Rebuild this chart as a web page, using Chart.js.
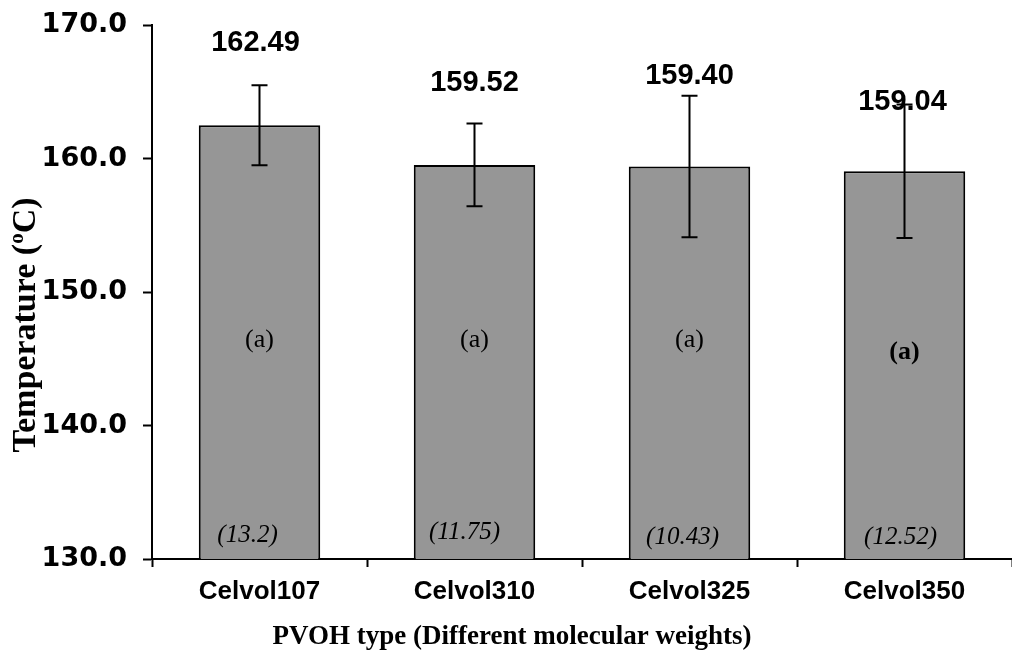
<!DOCTYPE html>
<html>
<head>
<meta charset="utf-8">
<script src="https://cdn.jsdelivr.net/npm/chart.js@4"></script>
<style>
  html, body { margin: 0; padding: 0; background: #fff; }
  #wrap { width: 1012px; height: 653px; }
</style>
</head>
<body>
<div id="wrap"><canvas id="meltChart" width="1012" height="653"></canvas></div>
<script>
// melting temperature per PVOH grade
const categories = ['Celvol107', 'Celvol310', 'Celvol325', 'Celvol350'];
const meltTemps = [162.49, 159.52, 159.40, 159.04];
const stdDevs = [3.0, 3.1, 5.3, 5.0];
const groupLetters = ['(a)', '(a)', '(a)', '(a)'];
const bracketValues = ['(13.2)', '(11.75)', '(10.43)', '(12.52)'];
const yMin = 130, yMax = 170, yStep = 10;
const xTitle = 'PVOH type (Different molecular weights)';

// where the annotations sit (layout only)
const valueLift = [42, 41, 20, 3];        // px above the error bar top
const valueShift = [-4, 0, 0, -2];
const letterLevel = [146.4, 146.4, 146.4, 145.5];
const bracketLevel = [131.8, 132.0, 131.6, 131.6];
const bracketShift = [-12, -10, -7, -4];

const SANS = '"Liberation Sans", Arial, sans-serif';
const WIDE = '"DejaVu Sans", Verdana, sans-serif';
const SERIF = '"Liberation Serif", "Times New Roman", serif';

const annotate = {
  id: 'annotate',
  afterDatasetsDraw(chart) {
    const ctx = chart.ctx;
    const y = chart.scales.y;
    const bars = chart.getDatasetMeta(0).data;
    ctx.save();
    // error bars
    ctx.strokeStyle = '#000';
    ctx.lineWidth = 2;
    bars.forEach((bar, i) => {
      const top = y.getPixelForValue(meltTemps[i] + stdDevs[i]);
      const bot = y.getPixelForValue(meltTemps[i] - stdDevs[i]);
      ctx.beginPath();
      ctx.moveTo(bar.x, top); ctx.lineTo(bar.x, bot);
      ctx.moveTo(bar.x - 8, top); ctx.lineTo(bar.x + 8, top);
      ctx.moveTo(bar.x - 8, bot); ctx.lineTo(bar.x + 8, bot);
      ctx.stroke();
    });
    ctx.fillStyle = '#000';
    ctx.textAlign = 'center';
    ctx.textBaseline = 'middle';
    bars.forEach((bar, i) => {
      // value on top
      ctx.font = 'bold 29px ' + SANS;
      const top = y.getPixelForValue(meltTemps[i] + stdDevs[i]);
      ctx.fillText(meltTemps[i].toFixed(2), bar.x + valueShift[i], top - valueLift[i]);
      // significance letter
      ctx.font = (i === 3 ? 'bold ' : '') + '26px ' + SERIF;
      ctx.fillText(groupLetters[i], bar.x, y.getPixelForValue(letterLevel[i]));
      // bracketed value near the base
      ctx.font = 'italic 25px ' + SERIF;
      ctx.fillText(bracketValues[i], bar.x + bracketShift[i], y.getPixelForValue(bracketLevel[i]));
    });
    ctx.restore();
  },
  afterDraw(chart) {
    const ctx = chart.ctx;
    ctx.save();
    ctx.fillStyle = '#000';

    // x axis title, set a little left of the plot centre
    ctx.font = 'bold 27px ' + SERIF;
    ctx.textAlign = 'center';
    ctx.textBaseline = 'middle';
    ctx.fillText(xTitle, 512, 637);

    // y axis title with a superscript o
    const big = 'bold 34px ' + SERIF, small = 'bold 21px ' + SERIF;
    ctx.textBaseline = 'alphabetic';
    ctx.font = big;
    const w1 = ctx.measureText('Temperature (').width;
    const w3 = ctx.measureText('C)').width;
    ctx.font = small;
    const w2 = ctx.measureText('o').width;
    const total = w1 + w2 + w3;
    ctx.translate(35, 325);
    ctx.rotate(-Math.PI / 2);
    let x = -total / 2;
    ctx.textAlign = 'left';
    ctx.font = big; ctx.fillText('Temperature (', x, 0); x += w1;
    ctx.font = small; ctx.fillText('o', x, -12); x += w2;
    ctx.font = big; ctx.fillText('C)', x, 0);
    ctx.restore();
  }
};

new Chart(document.getElementById('meltChart'), {
  type: 'bar',
  data: {
    labels: categories,
    datasets: [{
      data: meltTemps,
      backgroundColor: '#969696',
      borderColor: '#000',
      borderWidth: 2,
      borderSkipped: false,
      categoryPercentage: 1,
      barPercentage: 0.565
    }]
  },
  options: {
    responsive: false,
    animation: false,
    layout: { padding: { top: 25, right: 0, left: 0, bottom: 0 } },
    plugins: { legend: { display: false }, tooltip: { enabled: false } },
    scales: {
      x: {
        grid: { offset: true, drawOnChartArea: false, tickLength: 8, tickColor: '#000', tickWidth: 2 },
        border: { color: '#000', width: 2 },
        ticks: { color: '#000', font: { family: SANS, size: 26, weight: 'bold' }, padding: 9, maxRotation: 0 },
        afterFit(scale) {
          scale.height = 94;
          scale.paddingLeft = 0;
          scale.paddingRight = 0;
        }
      },
      y: {
        min: yMin,
        max: yMax,
        ticks: {
          stepSize: yStep,
          color: '#000',
          font: { family: WIDE, size: 27, weight: 'bold' },
          padding: 16,
          callback: v => v.toFixed(1)
        },
        grid: { drawOnChartArea: false, tickLength: 9, tickColor: '#000', tickWidth: 2 },
        border: { color: '#000', width: 2 },
        afterFit(scale) {
          scale.width = 152;
          // keep the plot top fixed regardless of label height
          scale.paddingTop = 0;
          scale.paddingBottom = 0;
        }
      }
    }
  },
  plugins: [annotate]
});
</script>
</body>
</html>
